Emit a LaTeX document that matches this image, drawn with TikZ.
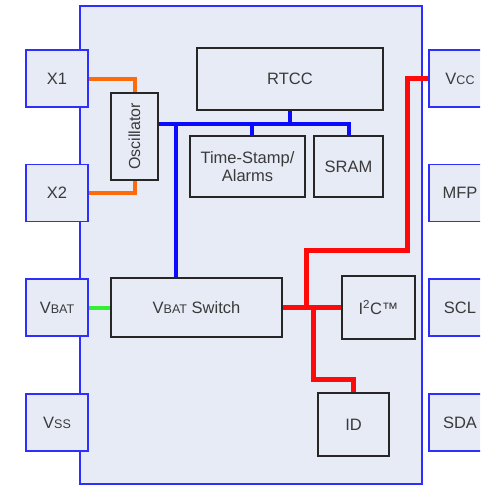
\documentclass[tikz,border=0pt]{standalone}
\usepackage{fontspec}
\setmainfont{Liberation Sans}
\definecolor{chipfill}{HTML}{E6EBF6}
\definecolor{pinblue}{HTML}{2E2EFF}
\definecolor{busblue}{HTML}{0A0AFF}
\definecolor{osc}{HTML}{FF6A0A}
\definecolor{pwr}{HTML}{FF0A0A}
\definecolor{grn}{HTML}{33F033}
\definecolor{txt}{HTML}{3A3A3A}
\newcommand{\sm}[1]{{\fontsize{12.5}{12.5}\selectfont #1}}
\tikzset{
  pinbox/.style={draw=pinblue, line width=1.8pt, fill=chipfill, minimum width=62, minimum height=57, inner sep=0, text=txt, font=\fontsize{16.5}{18}\selectfont},
  blk/.style={draw=black!85, line width=2.2pt, fill=chipfill, inner sep=0, text=txt, font=\fontsize{16.5}{18}\selectfont, align=center},
  busw/.style={draw=busblue, line width=4pt},
  oscw/.style={draw=osc, line width=4pt},
  pwrw/.style={draw=pwr, line width=5pt},
  grnw/.style={draw=grn, line width=4pt},
}
\begin{document}
\begin{tikzpicture}[x=1pt,y=-1pt]
\useasboundingbox (0,0) rectangle (480,485);
\clip (0,0) rectangle (480,485);
\fill[white] (0,0) rectangle (480,485);
% chip
\draw[pinblue, line width=1.8pt, fill=chipfill] (80,6) rectangle (422,484);
% pins
\node[pinbox] (x1) at (57,78.5) {X1};
\node[pinbox] (x2) at (57,193) {X2};
\node[pinbox] (vbat) at (57,307.5) {V\sm{BAT}};
\node[pinbox] (vss) at (57,422.5) {V\sm{SS}};
\node[pinbox] (vcc) at (460,78.5) {V\sm{CC}};
\node[pinbox] (mfp) at (460,193) {MFP};
\node[pinbox] (scl) at (460,307.5) {SCL};
\node[pinbox] (sda) at (460,422.5) {SDA};
% blocks
\node[blk, minimum width=47, minimum height=87] (osc) at (134.5,136.5) {};
\node[text=txt, font=\fontsize{16}{18}\selectfont, rotate=90] (osclbl) at (osc.center) {Oscillator};
\node[blk, minimum width=186, minimum height=62] (rtcc) at (290,79) {RTCC};
\node[blk, minimum width=115, minimum height=61] (ts) at (247.5,166.5) {Time-Stamp/\\Alarms};
\node[blk, minimum width=69, minimum height=61] (sram) at (348.5,166.5) {SRAM};
\node[blk, minimum width=171, minimum height=59] (sw) at (196.5,307.5) {V\sm{BAT} Switch};
\node[blk, minimum width=73, minimum height=63] (i2c) at (378.5,307.5) {I\textsuperscript{2}C™};
\node[blk, minimum width=71, minimum height=63] (id) at (353.5,424.5) {ID};
% orange
\draw[oscw] (x1.east) -| (osc.north);
\draw[oscw] (x2.east) -| (osc.south);
% blue bus
\coordinate (bus) at (176,124);
\coordinate (tstap) at (252,124);
\draw[busw] (osc.east |- bus) -- (sram.north |- bus) -- (sram.north);
\draw[busw] (rtcc.south) -- (rtcc.south |- bus);
\draw[busw] (tstap) -- (tstap |- ts.north);
\draw[busw] (bus) -- (bus |- sw.north);
% green
\draw[grnw] (vbat.east) -- (sw.west);
% red
\coordinate (ra) at (407,250);
\coordinate (rb) at (306,250);
\coordinate (rc) at (313,379);
\draw[pwrw] (vcc.west) -| (ra) -- (rb) -- (rb |- sw.east);
\draw[pwrw] (sw.east) -- (i2c.west);
\draw[pwrw] (rc |- sw.east) -- (rc) -| (id.north);
\end{tikzpicture}
\end{document}
